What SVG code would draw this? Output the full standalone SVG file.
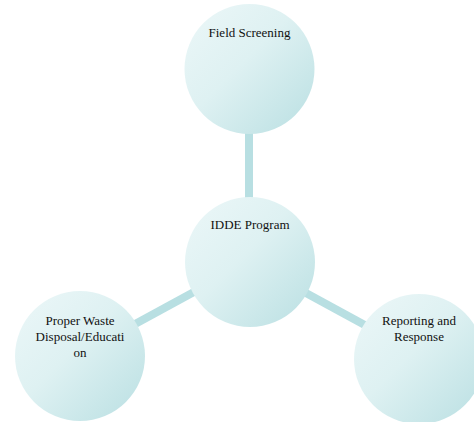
<svg xmlns="http://www.w3.org/2000/svg" width="474" height="422" viewBox="0 0 474 422">
<defs>
<linearGradient id="g" x1="0" y1="0" x2="1" y2="1">
<stop offset="0" stop-color="#ecf7f8"/>
<stop offset="0.45" stop-color="#def1f2"/>
<stop offset="1" stop-color="#b9dfe2"/>
</linearGradient>
<style>
.n{fill:url(#g);}
.c{stroke:#b8dfe2;stroke-width:8;fill:none;}
text{font-family:"Liberation Serif","Times New Roman",serif;font-size:13px;fill:#111111;text-anchor:middle;}
</style>
</defs>
<rect width="474" height="422" fill="#ffffff"/>
<g id="connectors">
<line class="c" x1="249" y1="69" x2="249" y2="262"/>
<line class="c" x1="249" y1="262" x2="80" y2="354"/>
<line class="c" x1="249" y1="262" x2="418" y2="354"/>
</g>
<g id="field-screening">
<circle class="n" cx="249.5" cy="69" r="65"/>
<text x="249.5" y="37">Field Screening</text>
</g>
<g id="idde-program">
<circle class="n" cx="250" cy="262" r="65"/>
<text x="250" y="229">IDDE Program</text>
</g>
<g id="proper-waste">
<circle class="n" cx="80" cy="356" r="65"/>
<text x="80" y="325">Proper Waste</text>
<text x="80" y="341">Disposal/Educati</text>
<text x="80" y="357">on</text>
</g>
<g id="reporting">
<circle class="n" cx="419" cy="359" r="65"/>
<text x="419" y="325">Reporting and</text>
<text x="419" y="341">Response</text>
</g>
</svg>
